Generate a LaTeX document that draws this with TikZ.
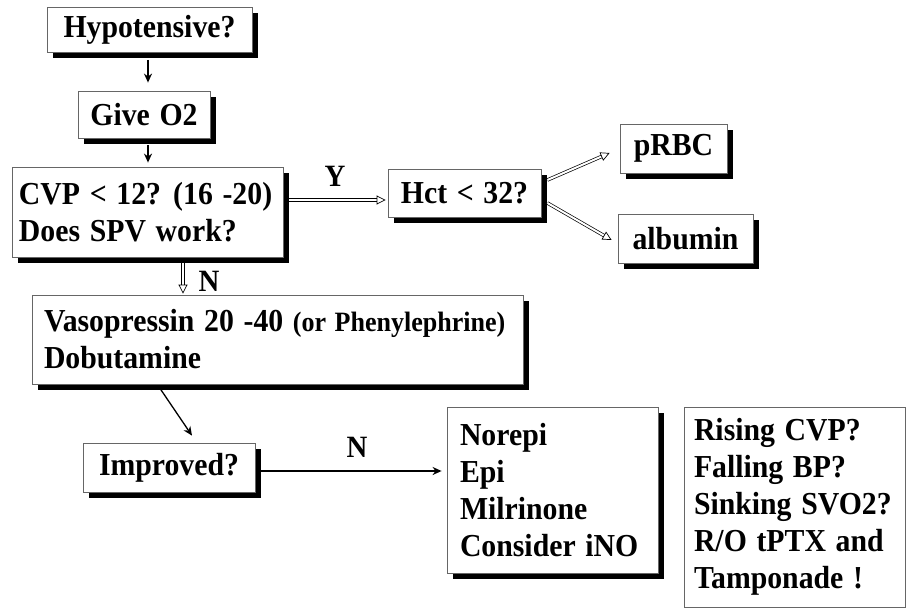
\documentclass[tikz,border=0pt]{standalone}
\usepackage{fontspec}
\setmainfont{Liberation Serif}[FakeStretch=0.93, WordSpace=1.3]
\usepackage{tikz}
\usetikzlibrary{calc, shadows, arrows.meta}
\tikzstyle{note}=[draw=black!60, line width=0.8pt, fill=white, inner sep=0pt, align=flush left, font=\bfseries\fontsize{32}{37}\selectfont]
\tikzstyle{box}=[note, drop shadow={shadow xshift=6pt, shadow yshift=-6pt, fill=black, opacity=1}]
\tikzstyle{lbl}=[font=\bfseries\fontsize{31}{31}\selectfont]
\tikzstyle{arr}=[line width=1.6pt, -{Stealth[length=9pt, width=8pt]}]
\tikzstyle{dbl}=[double, double distance=2pt, line width=0.7pt, -{Triangle[open, length=9pt, width=9pt]}]

\begin{document}
\begin{tikzpicture}[x=1pt, y=-1pt]
\useasboundingbox (0,0) rectangle (906,610);
\node [box, minimum width=205pt, minimum height=45pt] (hyp) at (149.5,30) {Hypotensive?};
\node [box, minimum width=132pt, minimum height=47pt] (o2) at (144,114.5) {Give O2};
\node [box, text width=257pt, inner xsep=7pt, minimum height=90pt] (cvp) at (147.5,212) {\mbox{CVP < 12? (16 -20)}\\Does SPV work?};
\node [box, minimum width=153pt, minimum height=48pt] (hct) at (464.5,193) {Hct < 32?};
\node [box, minimum width=107pt, minimum height=49pt] (rbc) at (673.5,148.5) {pRBC};
\node [box, minimum width=135pt, minimum height=49pt] (alb) at (685.5,238.5) {albumin};
\node [box, text width=467pt, inner xsep=12pt, minimum height=89pt] (vaso) at (277.5,339.5) {\mbox{Vasopressin 20 -40 {\fontsize{28}{37}\selectfont (or Phenylephrine)}}\\Dobutamine};
\node [box, minimum width=172pt, minimum height=49pt] (imp) at (169,467.5) {Improved?};
\node [box, text width=185pt, inner xsep=13pt, minimum height=166pt] (nor) at (552.5,490) {Norepi\\Epi\\Milrinone\\Consider iNO};
\node [note, text width=201pt, inner xsep=10pt, minimum height=200pt] (ris) at (794.5,507) {Rising CVP?\\Falling BP?\\Sinking SVO2?\\R/O tPTX and\\Tamponade !};
\node [lbl] (y) at (335,176) {Y};
\node [lbl] (n1) at (209,281) {N};
\node [lbl] (n2) at (357,447) {N};
\draw [arr] ($(hyp.south)+(-1.5,7)$) -- ($(hyp.south |- o2.north)+(-1.5,-8)$);
\draw [arr] ($(o2.south)+(4,7)$) -- ($(o2.south |- cvp.north)+(4,-4)$);
\draw [dbl] ($(cvp.east |- hct.west)+(6,7)$) -- ($(hct.west)+(-2,7)$);
\draw [dbl] ($(cvp.south)+(35.5,6)$) -- ($(cvp.south |- vaso.north)+(35.5,-1)$);
\draw [dbl] ($(hct.east)+(6,-13)$) -- ($(rbc.west)+(-10,4.5)$);
\draw [dbl] ($(hct.east)+(6,10)$) -- ($(alb.west)+(-6,1.5)$);
\draw [arr, line width=1.3pt] ($(vaso.south)+(-117.5,4)$) -- ($(imp.north)+(23,-7)$);
\draw [arr] ($(imp.east)+(6,3.5)$) -- ($(imp.east -| nor.west)+(-5,3.5)$);
\end{tikzpicture}
\end{document}
